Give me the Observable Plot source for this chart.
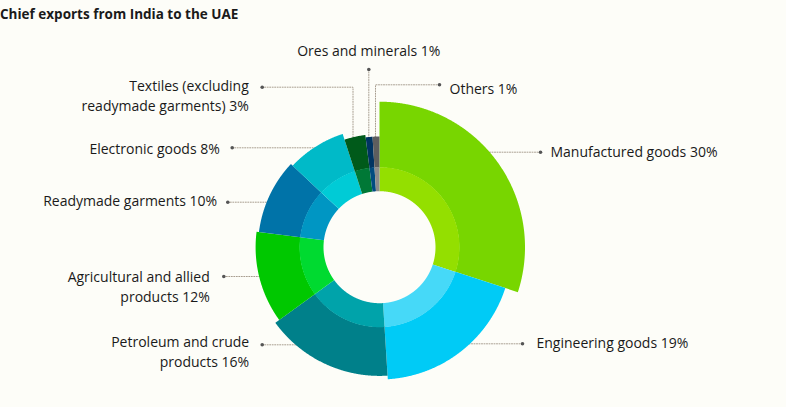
<!DOCTYPE html>
<html>
<head>
<meta charset="utf-8">
<script src="https://cdn.jsdelivr.net/npm/d3@7"></script>
<script src="https://cdn.jsdelivr.net/npm/@observablehq/plot@0.6"></script>
<style>
  html, body { margin: 0; padding: 0; background: #fdfdf8; }
  #title { height: 30px; box-sizing: border-box; padding-top: 5px; padding-left: 0px;
           font: bold 13.5px "Open Sans", sans-serif; color: #1a1a1a; line-height: 18px; white-space: nowrap; }
  #chart svg { display: block; }
</style>
</head>
<body>
<div id="title">Chief exports from India to the UAE</div>
<div id="chart"></div>
<script>
// ---- data ----
const categories = [
  "Manufactured goods", "Engineering goods", "Petroleum and crude products",
  "Agricultural and allied products", "Readymade garments", "Electronic goods",
  "Textiles (excluding readymade garments)", "Ores and minerals", "Others"
];
const shares = [30, 19, 16, 12, 10, 8, 3, 1, 1];
const labelTexts = [
  "Manufactured goods 30%",
  "Engineering goods 19%",
  "Petroleum and crude\nproducts 16%",
  "Agricultural and allied\nproducts 12%",
  "Readymade garments 10%",
  "Electronic goods 8%",
  "Textiles (excluding\nreadymade garments) 3%",
  "Ores and minerals 1%",
  "Others 1%"
];

// ---- styles ----
const outerColors = ["#78d600", "#00cbf6", "#00808a", "#00c800", "#0073a8", "#00bac8", "#005a1a", "#003462", "#5e5e5e"];
const innerColors = ["#94df00", "#46d9f8", "#00a3aa", "#00da30", "#0096c3", "#00cbd6", "#007836", "#004c80", "#8c8c8c"];

// ---- layout ----
const W = 786, H = 377;
const CX = 379, CY = 216.7;       // donut centre
const R_HOLE = 56, R_MID = 80;    // inner ring radii
const rOuter = d3.scaleLinear([0, 30], [109.5, 145.5]); // outer radius encodes share

// label layout: dot, optional elbow (x for vertical drop), text anchor point
const labelLayout = [
  {dot: [540, 121.7], end: "h", tx: 550, ty: 112.4, anchor: "start"},
  {dot: [522, 313.3], end: "h", tx: 536, ty: 303.8, anchor: "start"},
  {dot: [261.7, 314.3], end: "h", tx: 248.7, ty: 302.8, anchor: "end"},
  {dot: [223.3, 246], end: "h", tx: 209.3, ty: 237.8, anchor: "end"},
  {dot: [227.3, 171.7], end: "h", tx: 216.7, ty: 162, anchor: "end"},
  {dot: [231.7, 117.3], end: "h", tx: 219.3, ty: 109.4, anchor: "end"},
  {dot: [261.7, 56.7], end: "v", elbowX: 352.5, tx: 248.3, ty: 46.8, anchor: "end"},
  {dot: [368.3, 39], end: "v", elbowX: 368.3, tx: 368.3, ty: 12, anchor: "middle"},
  {dot: [439, 54.3], end: "v", elbowX: 375, tx: 449, ty: 49.4, anchor: "start"}
];

// ---- geometry from data ----
const arcs = d3.pie().sort(null).value(d => d)(shares);
const polar = (a, r) => [CX + r * Math.sin(a), CY - r * Math.cos(a)];

function ringPolygon(a0, a1, rIn, rOut) {
  const n = Math.max(2, Math.ceil((a1 - a0) / 0.004));
  const pts = [];
  for (let i = 0; i <= n; i++) pts.push(polar(a0 + (a1 - a0) * i / n, rOut));
  for (let i = n; i >= 0; i--) pts.push(polar(a0 + (a1 - a0) * i / n, rIn));
  return pts;
}

const verts = [];
arcs.forEach((arc, i) => {
  const R = rOuter(shares[i]);
  ringPolygon(arc.startAngle, arc.endAngle, R_MID - 0.3, R).forEach(([x, y]) =>
    verts.push({key: "o" + i, x, y, color: outerColors[i]}));
  ringPolygon(arc.startAngle, arc.endAngle, R_HOLE, R_MID).forEach(([x, y]) =>
    verts.push({key: "i" + i, x, y, color: innerColors[i]}));
});

const connectors = [];
labelLayout.forEach((L, i) => {
  const R = rOuter(shares[i]) - 4;
  const [dx0, dy0] = L.dot;
  if (L.end === "h") {
    const dy = dy0 - CY;
    const side = dx0 > CX ? 1 : -1;
    const ex = CX + side * Math.sqrt(Math.max(0, R * R - dy * dy));
    connectors.push({id: i, x: dx0, y: dy0}, {id: i, x: ex, y: dy0});
  } else {
    const dx = L.elbowX - CX;
    const ey = CY - Math.sqrt(Math.max(0, R * R - dx * dx));
    connectors.push({id: i, x: dx0, y: dy0});
    if (L.elbowX !== dx0) connectors.push({id: i, x: L.elbowX, y: dy0});
    connectors.push({id: i, x: L.elbowX, y: ey});
  }
});

const dots = labelLayout.map((L, i) => ({x: L.dot[0], y: L.dot[1], name: categories[i]}));
const labels = labelLayout.map((L, i) => ({x: L.tx, y: L.ty, text: labelTexts[i], anchor: L.anchor}));

const textMark = anchor => Plot.text(labels.filter(d => d.anchor === anchor), {
  x: "x", y: "y", text: "text", textAnchor: anchor, lineAnchor: "top",
  fontSize: 14, lineHeight: 1.4, fill: "#1a1a1a", fontFamily: "Open Sans"
});

const chart = Plot.plot({
  width: W, height: H, margin: 0,
  x: {domain: [0, W], range: [0, W], axis: null},
  y: {domain: [0, H], range: [0, H], axis: null},
  color: {type: "identity"},
  style: {background: "transparent", fontFamily: "Open Sans", overflow: "visible"},
  marks: [
    Plot.line(connectors, {x: "x", y: "y", z: "id", stroke: "#a89e90", strokeWidth: 1, strokeDasharray: "1,1.5", curve: "linear"}),
    Plot.line(verts, {x: "x", y: "y", z: "key", fill: "color", stroke: "none", curve: "linear"}),
    Plot.dot(dots, {x: "x", y: "y", r: 1.8, fill: "#555555", stroke: "none"}),
    textMark("start"), textMark("end"), textMark("middle")
  ]
});
document.getElementById("chart").appendChild(chart);
</script>
</body>
</html>
